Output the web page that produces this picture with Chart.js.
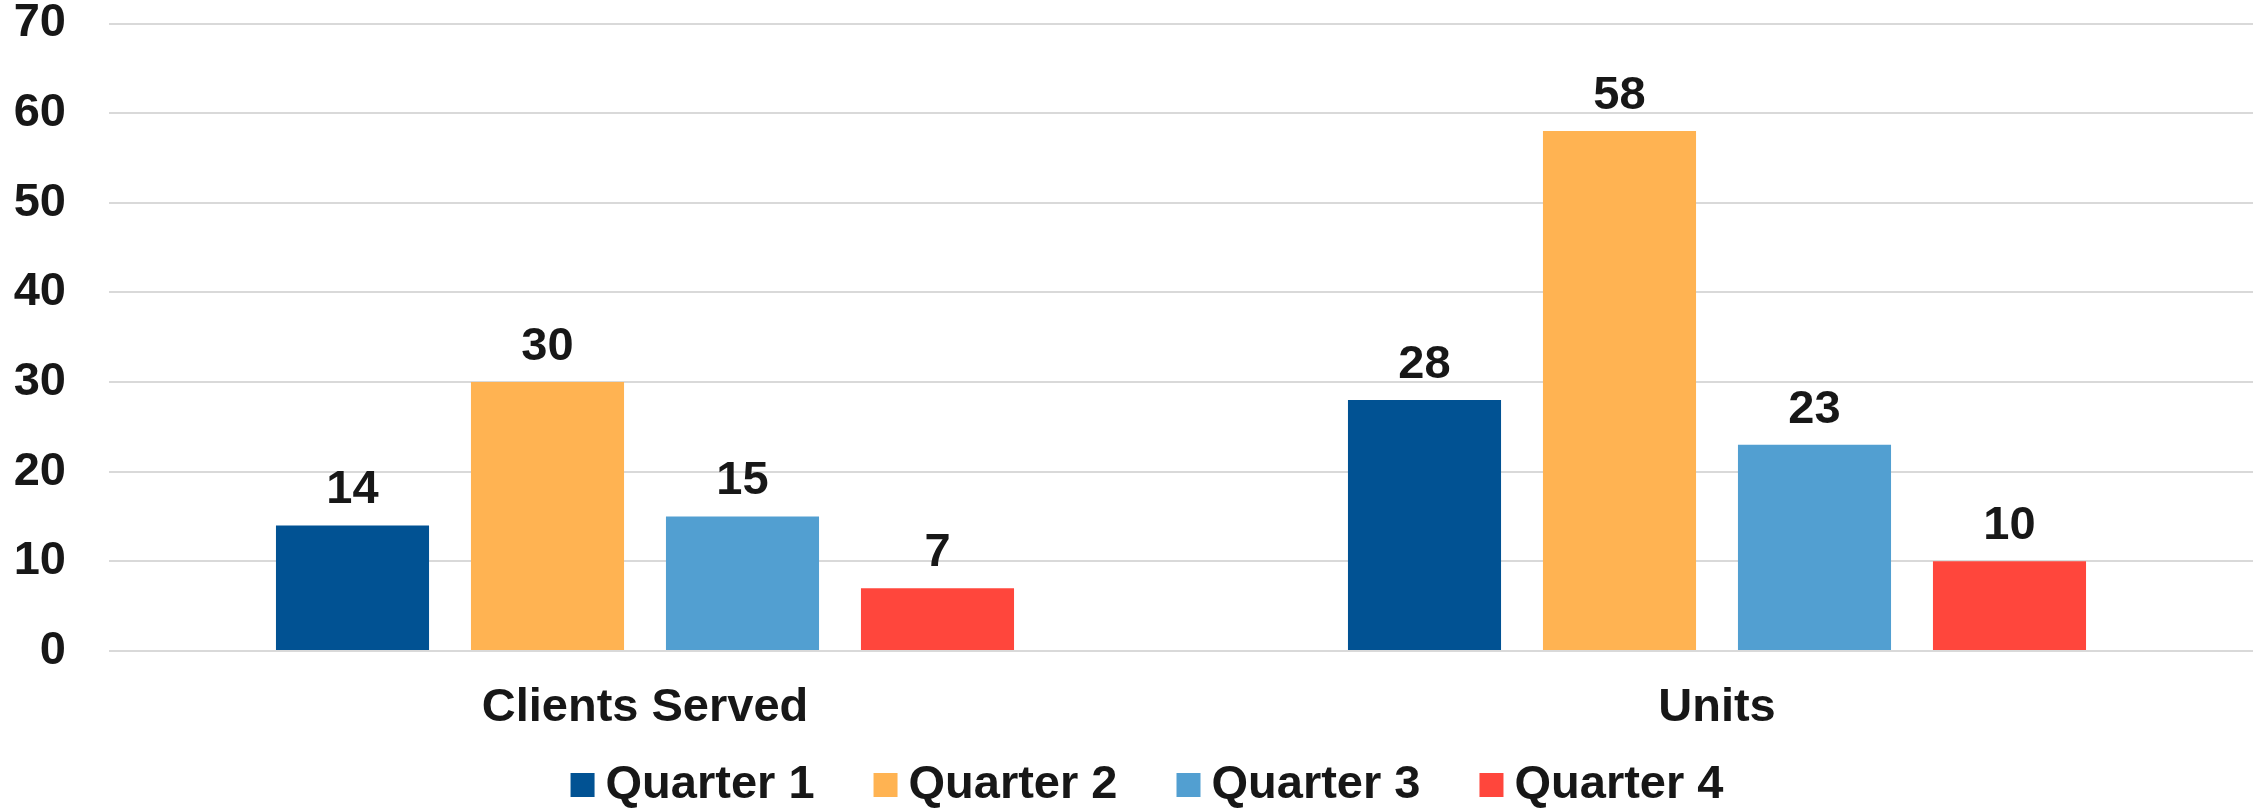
<!DOCTYPE html>
<html>
<head>
<meta charset="utf-8">
<script src="https://cdn.jsdelivr.net/npm/chart.js@4.4.1/dist/chart.umd.min.js"></script>
<style>
  html, body { margin: 0; padding: 0; background: #ffffff; }
  #wrap { width: 2262px; height: 808px; }
</style>
</head>
<body>
<div id="wrap"><canvas id="myChart" width="2262" height="808"></canvas></div>
<script>
"use strict";
const categories = ['Clients Served', 'Units'];
const seriesNames = ['Quarter 1', 'Quarter 2', 'Quarter 3', 'Quarter 4'];
const quarter1 = [14, 28];
const quarter2 = [30, 58];
const quarter3 = [15, 23];
const quarter4 = [7, 10];
const yTicks = [0, 10, 20, 30, 40, 50, 60, 70];

const colors = ['#015293', '#FFB352', '#529FD1', '#FF463C'];
const textColor = '#171717';
const fontFamily = '"Liberation Sans", Arial, sans-serif';

// draws the value above each bar, using the bar element positions
const valueLabels = {
  id: 'valueLabels',
  afterDatasetsDraw(chart) {
    const ctx = chart.ctx;
    ctx.save();
    ctx.font = 'bold 47px ' + fontFamily;
    ctx.fillStyle = textColor;
    ctx.textAlign = 'center';
    ctx.textBaseline = 'middle';
    chart.data.datasets.forEach((ds, i) => {
      const meta = chart.getDatasetMeta(i);
      meta.data.forEach((bar, j) => {
        ctx.fillText(ds.data[j], bar.x, bar.y - 35);
      });
    });
    ctx.restore();
  }
};

// legend row under the axis, built from the dataset labels and colours
// (the built-in legend ties its item spacing to its vertical padding)
const legendRow = {
  id: 'legendRow',
  afterDraw(chart) {
    const ctx = chart.ctx;
    const box = 24, gap = 11, spacing = 59, centerX = 1147, centerY = 785;
    ctx.save();
    ctx.font = 'bold 47px ' + fontFamily;
    ctx.textBaseline = 'middle';
    ctx.textAlign = 'left';
    const items = chart.data.datasets.map(ds => ({
      text: ds.label,
      color: ds.backgroundColor,
      width: box + gap + ctx.measureText(ds.label).width
    }));
    const total = items.reduce((s, it) => s + it.width, 0) + spacing * (items.length - 1);
    let x = centerX - total / 2;
    items.forEach(it => {
      ctx.fillStyle = it.color;
      ctx.fillRect(x, centerY - box / 2, box, box);
      ctx.fillStyle = textColor;
      ctx.fillText(it.text, x + box + gap, centerY);
      x += it.width + spacing;
    });
    ctx.restore();
  }
};

const allSeries = [quarter1, quarter2, quarter3, quarter4];
const data = {
  labels: categories,
  datasets: seriesNames.map((name, i) => ({
    label: name,
    data: allSeries[i],
    backgroundColor: colors[i],
    borderWidth: 0,
    categoryPercentage: 0.7276,
    barPercentage: 0.785
  }))
};

const config = {
  type: 'bar',
  data: data,
  options: {
    responsive: false,
    animation: false,
    layout: { padding: { top: 0, right: 9, bottom: 81, left: 0 } },
    scales: {
      x: {
        grid: { display: false, drawTicks: false },
        border: { display: false },
        afterFit(scale) {
          scale.height = 76;
        },
        ticks: {
          color: textColor,
          font: { family: fontFamily, size: 47, weight: 'bold' },
          padding: 29
        }
      },
      y: {
        min: 0,
        max: yTicks[yTicks.length - 1],
        afterBuildTicks(scale) {
          scale.ticks = yTicks.map(v => ({ value: v }));
        },
        afterFit(scale) {
          scale.width = 109;
        },
        grid: { color: '#D9D9D9', lineWidth: 2, drawTicks: true, tickLength: 43, tickColor: 'rgba(0,0,0,0)' },
        border: { display: false },
        ticks: {
          color: textColor,
          font: { family: fontFamily, size: 47, weight: 'bold', lineHeight: 1 },
          padding: 0
        }
      }
    },
    plugins: {
      legend: { display: false },
      tooltip: { enabled: false }
    }
  },
  plugins: [valueLabels, legendRow]
};

let canvasChart = document.getElementById('myChart');
const myChart = new Chart(canvasChart, config);
</script>
</body>
</html>
